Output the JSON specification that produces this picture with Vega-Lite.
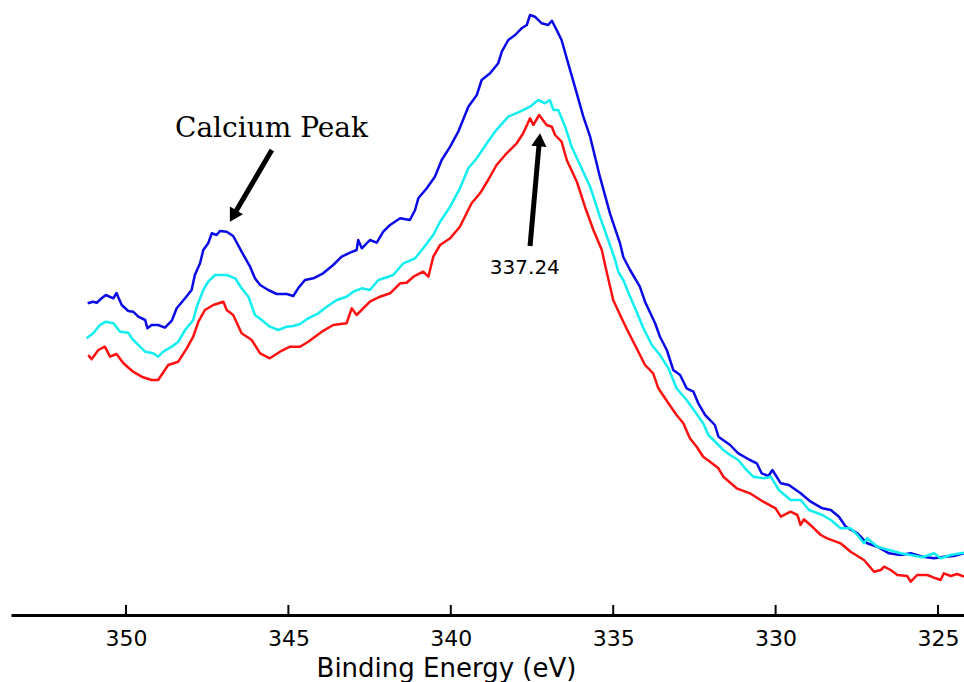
{
"$schema": "https://vega.github.io/schema/vega-lite/v6.json",
"width": 953, "height": 615,
"autosize": {"type": "none"},
"padding": {"left": 11, "top": 0, "right": 0, "bottom": 67},
"background": "white",
"config": {"view": {"stroke": null}},
"datasets": {
"spectra": [
{"series":"Spectrum 1","energy":351.18,"intensity":311.7},{"series":"Spectrum 1","energy":351.01,"intensity":313.3},{"series":"Spectrum 1","energy":350.90,"intensity":312.3},{"series":"Spectrum 1","energy":350.75,"intensity":316.7},{"series":"Spectrum 1","energy":350.62,"intensity":320},{"series":"Spectrum 1","energy":350.39,"intensity":316.7},{"series":"Spectrum 1","energy":350.29,"intensity":322},{"series":"Spectrum 1","energy":350.24,"intensity":318},{"series":"Spectrum 1","energy":350.13,"intensity":310},{"series":"Spectrum 1","energy":349.93,"intensity":304},{"series":"Spectrum 1","energy":349.78,"intensity":303.3},{"series":"Spectrum 1","energy":349.62,"intensity":298.3},{"series":"Spectrum 1","energy":349.41,"intensity":295},{"series":"Spectrum 1","energy":349.34,"intensity":286.7},{"series":"Spectrum 1","energy":349.21,"intensity":290},{"series":"Spectrum 1","energy":349.01,"intensity":290},{"series":"Spectrum 1","energy":348.80,"intensity":287.3},{"series":"Spectrum 1","energy":348.59,"intensity":294.3},{"series":"Spectrum 1","energy":348.44,"intensity":306.7},{"series":"Spectrum 1","energy":348.18,"intensity":316.7},{"series":"Spectrum 1","energy":347.98,"intensity":325},{"series":"Spectrum 1","energy":347.88,"intensity":340},{"series":"Spectrum 1","energy":347.72,"intensity":351.7},{"series":"Spectrum 1","energy":347.62,"intensity":365},{"series":"Spectrum 1","energy":347.47,"intensity":371.7},{"series":"Spectrum 1","energy":347.36,"intensity":381.7},{"series":"Spectrum 1","energy":347.21,"intensity":380},{"series":"Spectrum 1","energy":347.11,"intensity":384},{"series":"Spectrum 1","energy":346.90,"intensity":383.3},{"series":"Spectrum 1","energy":346.70,"intensity":379},{"series":"Spectrum 1","energy":346.44,"intensity":363.3},{"series":"Spectrum 1","energy":346.18,"intensity":348.3},{"series":"Spectrum 1","energy":346.03,"intensity":336.7},{"series":"Spectrum 1","energy":345.87,"intensity":330},{"series":"Spectrum 1","energy":345.62,"intensity":325},{"series":"Spectrum 1","energy":345.36,"intensity":321},{"series":"Spectrum 1","energy":345.05,"intensity":321},{"series":"Spectrum 1","energy":344.85,"intensity":319},{"series":"Spectrum 1","energy":344.70,"intensity":326.7},{"series":"Spectrum 1","energy":344.49,"intensity":335},{"series":"Spectrum 1","energy":344.23,"intensity":336.7},{"series":"Spectrum 1","energy":343.93,"intensity":341.7},{"series":"Spectrum 1","energy":343.62,"intensity":350},{"series":"Spectrum 1","energy":343.36,"intensity":358.3},{"series":"Spectrum 1","energy":343.10,"intensity":362.3},{"series":"Spectrum 1","energy":342.90,"intensity":365},{"series":"Spectrum 1","energy":342.85,"intensity":375},{"series":"Spectrum 1","energy":342.74,"intensity":366.7},{"series":"Spectrum 1","energy":342.49,"intensity":375},{"series":"Spectrum 1","energy":342.28,"intensity":372.3},{"series":"Spectrum 1","energy":342.08,"intensity":383.3},{"series":"Spectrum 1","energy":341.87,"intensity":390},{"series":"Spectrum 1","energy":341.56,"intensity":396.7},{"series":"Spectrum 1","energy":341.26,"intensity":395},{"series":"Spectrum 1","energy":341.10,"intensity":405},{"series":"Spectrum 1","energy":341.00,"intensity":416.7},{"series":"Spectrum 1","energy":340.74,"intensity":426.7},{"series":"Spectrum 1","energy":340.49,"intensity":438.3},{"series":"Spectrum 1","energy":340.28,"intensity":455},{"series":"Spectrum 1","energy":340.02,"intensity":468.3},{"series":"Spectrum 1","energy":339.77,"intensity":483.3},{"series":"Spectrum 1","energy":339.46,"intensity":508.3},{"series":"Spectrum 1","energy":339.20,"intensity":520},{"series":"Spectrum 1","energy":339.05,"intensity":535},{"series":"Spectrum 1","energy":338.79,"intensity":541.7},{"series":"Spectrum 1","energy":338.54,"intensity":551.7},{"series":"Spectrum 1","energy":338.43,"intensity":563.3},{"series":"Spectrum 1","energy":338.23,"intensity":575},{"series":"Spectrum 1","energy":338.02,"intensity":580},{"series":"Spectrum 1","energy":337.82,"intensity":586.7},{"series":"Spectrum 1","energy":337.66,"intensity":590},{"series":"Spectrum 1","energy":337.56,"intensity":600},{"series":"Spectrum 1","energy":337.41,"intensity":598.3},{"series":"Spectrum 1","energy":337.20,"intensity":591.7},{"series":"Spectrum 1","energy":337.00,"intensity":590},{"series":"Spectrum 1","energy":336.89,"intensity":594.3},{"series":"Spectrum 1","energy":336.74,"intensity":585},{"series":"Spectrum 1","energy":336.59,"intensity":575},{"series":"Spectrum 1","energy":336.43,"intensity":556.7},{"series":"Spectrum 1","energy":336.18,"intensity":528.3},{"series":"Spectrum 1","energy":335.92,"intensity":498.3},{"series":"Spectrum 1","energy":335.71,"intensity":478.3},{"series":"Spectrum 1","energy":335.41,"intensity":438.3},{"series":"Spectrum 1","energy":335.10,"intensity":401.7},{"series":"Spectrum 1","energy":334.79,"intensity":371.7},{"series":"Spectrum 1","energy":334.69,"intensity":358},{"series":"Spectrum 1","energy":334.48,"intensity":345},{"series":"Spectrum 1","energy":334.18,"intensity":328.3},{"series":"Spectrum 1","energy":334.02,"intensity":313.3},{"series":"Spectrum 1","energy":333.71,"intensity":291.7},{"series":"Spectrum 1","energy":333.56,"intensity":278.3},{"series":"Spectrum 1","energy":333.35,"intensity":265},{"series":"Spectrum 1","energy":333.15,"intensity":245},{"series":"Spectrum 1","energy":332.94,"intensity":240},{"series":"Spectrum 1","energy":332.74,"intensity":226.7},{"series":"Spectrum 1","energy":332.53,"intensity":223.3},{"series":"Spectrum 1","energy":332.38,"intensity":211.7},{"series":"Spectrum 1","energy":332.17,"intensity":200},{"series":"Spectrum 1","energy":332.07,"intensity":196.7},{"series":"Spectrum 1","energy":331.87,"intensity":190},{"series":"Spectrum 1","energy":331.76,"intensity":178.3},{"series":"Spectrum 1","energy":331.40,"intensity":170},{"series":"Spectrum 1","energy":331.15,"intensity":161.7},{"series":"Spectrum 1","energy":330.79,"intensity":155},{"series":"Spectrum 1","energy":330.58,"intensity":151.7},{"series":"Spectrum 1","energy":330.43,"intensity":141.7},{"series":"Spectrum 1","energy":330.22,"intensity":139},{"series":"Spectrum 1","energy":330.10,"intensity":145},{"series":"Spectrum 1","energy":329.84,"intensity":131.7},{"series":"Spectrum 1","energy":329.59,"intensity":130},{"series":"Spectrum 1","energy":329.23,"intensity":121.7},{"series":"Spectrum 1","energy":328.92,"intensity":113.3},{"series":"Spectrum 1","energy":328.56,"intensity":106.7},{"series":"Spectrum 1","energy":328.30,"intensity":105},{"series":"Spectrum 1","energy":328.05,"intensity":98.3},{"series":"Spectrum 1","energy":327.84,"intensity":88.3},{"series":"Spectrum 1","energy":327.48,"intensity":81.7},{"series":"Spectrum 1","energy":327.18,"intensity":71.7},{"series":"Spectrum 1","energy":326.87,"intensity":68.3},{"series":"Spectrum 1","energy":326.51,"intensity":61.7},{"series":"Spectrum 1","energy":326.15,"intensity":60},{"series":"Spectrum 1","energy":325.84,"intensity":61.7},{"series":"Spectrum 1","energy":325.48,"intensity":58.3},{"series":"Spectrum 1","energy":325.12,"intensity":56.7},{"series":"Spectrum 1","energy":324.82,"intensity":58.3},{"series":"Spectrum 1","energy":324.51,"intensity":59},{"series":"Spectrum 1","energy":324.20,"intensity":61.7},
{"series":"Spectrum 2","energy":351.21,"intensity":276.7},{"series":"Spectrum 2","energy":351.01,"intensity":281.7},{"series":"Spectrum 2","energy":350.80,"intensity":290},{"series":"Spectrum 2","energy":350.62,"intensity":293.3},{"series":"Spectrum 2","energy":350.39,"intensity":291.7},{"series":"Spectrum 2","energy":350.18,"intensity":283.3},{"series":"Spectrum 2","energy":349.93,"intensity":282.3},{"series":"Spectrum 2","energy":349.82,"intensity":276.7},{"series":"Spectrum 2","energy":349.67,"intensity":271.7},{"series":"Spectrum 2","energy":349.41,"intensity":263.3},{"series":"Spectrum 2","energy":349.16,"intensity":261.7},{"series":"Spectrum 2","energy":349.01,"intensity":258.3},{"series":"Spectrum 2","energy":348.85,"intensity":263.3},{"series":"Spectrum 2","energy":348.59,"intensity":268.3},{"series":"Spectrum 2","energy":348.39,"intensity":273.3},{"series":"Spectrum 2","energy":348.18,"intensity":285},{"series":"Spectrum 2","energy":347.93,"intensity":295},{"series":"Spectrum 2","energy":347.82,"intensity":308.3},{"series":"Spectrum 2","energy":347.62,"intensity":325},{"series":"Spectrum 2","energy":347.47,"intensity":333.3},{"series":"Spectrum 2","energy":347.26,"intensity":340},{"series":"Spectrum 2","energy":347.05,"intensity":340},{"series":"Spectrum 2","energy":346.90,"intensity":340},{"series":"Spectrum 2","energy":346.64,"intensity":336.7},{"series":"Spectrum 2","energy":346.44,"intensity":326.7},{"series":"Spectrum 2","energy":346.23,"intensity":318.3},{"series":"Spectrum 2","energy":346.03,"intensity":300},{"series":"Spectrum 2","energy":345.82,"intensity":295},{"series":"Spectrum 2","energy":345.57,"intensity":288.3},{"series":"Spectrum 2","energy":345.31,"intensity":285},{"series":"Spectrum 2","energy":345.05,"intensity":288.3},{"series":"Spectrum 2","energy":344.85,"intensity":289},{"series":"Spectrum 2","energy":344.64,"intensity":291},{"series":"Spectrum 2","energy":344.39,"intensity":296.7},{"series":"Spectrum 2","energy":344.08,"intensity":301.7},{"series":"Spectrum 2","energy":343.82,"intensity":308.3},{"series":"Spectrum 2","energy":343.51,"intensity":315},{"series":"Spectrum 2","energy":343.21,"intensity":318.3},{"series":"Spectrum 2","energy":343.00,"intensity":323.3},{"series":"Spectrum 2","energy":342.74,"intensity":326.7},{"series":"Spectrum 2","energy":342.49,"intensity":325},{"series":"Spectrum 2","energy":342.23,"intensity":335},{"series":"Spectrum 2","energy":341.92,"intensity":338.3},{"series":"Spectrum 2","energy":341.77,"intensity":340},{"series":"Spectrum 2","energy":341.46,"intensity":351.7},{"series":"Spectrum 2","energy":341.10,"intensity":356.7},{"series":"Spectrum 2","energy":340.85,"intensity":366.7},{"series":"Spectrum 2","energy":340.54,"intensity":380},{"series":"Spectrum 2","energy":340.33,"intensity":393.3},{"series":"Spectrum 2","energy":340.02,"intensity":408.3},{"series":"Spectrum 2","energy":339.72,"intensity":426.7},{"series":"Spectrum 2","energy":339.46,"intensity":446.7},{"series":"Spectrum 2","energy":339.20,"intensity":456.7},{"series":"Spectrum 2","energy":338.89,"intensity":471.7},{"series":"Spectrum 2","energy":338.64,"intensity":483.3},{"series":"Spectrum 2","energy":338.23,"intensity":498.3},{"series":"Spectrum 2","energy":337.87,"intensity":503.3},{"series":"Spectrum 2","energy":337.56,"intensity":508.3},{"series":"Spectrum 2","energy":337.31,"intensity":515},{"series":"Spectrum 2","energy":337.10,"intensity":511.7},{"series":"Spectrum 2","energy":336.95,"intensity":515},{"series":"Spectrum 2","energy":336.84,"intensity":505},{"series":"Spectrum 2","energy":336.69,"intensity":505},{"series":"Spectrum 2","energy":336.48,"intensity":488.3},{"series":"Spectrum 2","energy":336.28,"intensity":468.3},{"series":"Spectrum 2","energy":336.02,"intensity":450},{"series":"Spectrum 2","energy":335.71,"intensity":428.3},{"series":"Spectrum 2","energy":335.41,"intensity":398.3},{"series":"Spectrum 2","energy":335.10,"intensity":370},{"series":"Spectrum 2","energy":334.94,"intensity":355},{"series":"Spectrum 2","energy":334.84,"intensity":343},{"series":"Spectrum 2","energy":334.69,"intensity":335},{"series":"Spectrum 2","energy":334.48,"intensity":318.3},{"series":"Spectrum 2","energy":334.28,"intensity":303.3},{"series":"Spectrum 2","energy":334.07,"intensity":286.7},{"series":"Spectrum 2","energy":333.81,"intensity":270},{"series":"Spectrum 2","energy":333.56,"intensity":260},{"series":"Spectrum 2","energy":333.30,"intensity":246.7},{"series":"Spectrum 2","energy":333.05,"intensity":226.7},{"series":"Spectrum 2","energy":332.74,"intensity":215},{"series":"Spectrum 2","energy":332.48,"intensity":203.3},{"series":"Spectrum 2","energy":332.23,"intensity":191.7},{"series":"Spectrum 2","energy":332.07,"intensity":180},{"series":"Spectrum 2","energy":331.76,"intensity":170},{"series":"Spectrum 2","energy":331.61,"intensity":165},{"series":"Spectrum 2","energy":331.40,"intensity":160},{"series":"Spectrum 2","energy":331.15,"intensity":155},{"series":"Spectrum 2","energy":330.94,"intensity":146.7},{"series":"Spectrum 2","energy":330.69,"intensity":138.3},{"series":"Spectrum 2","energy":330.36,"intensity":136.7},{"series":"Spectrum 2","energy":330.15,"intensity":138.3},{"series":"Spectrum 2","energy":329.90,"intensity":125},{"series":"Spectrum 2","energy":329.54,"intensity":115},{"series":"Spectrum 2","energy":329.23,"intensity":115},{"series":"Spectrum 2","energy":328.97,"intensity":105},{"series":"Spectrum 2","energy":328.56,"intensity":100},{"series":"Spectrum 2","energy":328.30,"intensity":95},{"series":"Spectrum 2","energy":328.00,"intensity":86.7},{"series":"Spectrum 2","energy":327.69,"intensity":86.7},{"series":"Spectrum 2","energy":327.48,"intensity":80},{"series":"Spectrum 2","energy":327.28,"intensity":71.7},{"series":"Spectrum 2","energy":327.18,"intensity":76.7},{"series":"Spectrum 2","energy":326.87,"intensity":68.3},{"series":"Spectrum 2","energy":326.51,"intensity":65},{"series":"Spectrum 2","energy":326.15,"intensity":61.7},{"series":"Spectrum 2","energy":325.84,"intensity":60},{"series":"Spectrum 2","energy":325.48,"intensity":57.7},{"series":"Spectrum 2","energy":325.12,"intensity":61.7},{"series":"Spectrum 2","energy":324.92,"intensity":56.7},{"series":"Spectrum 2","energy":324.61,"intensity":60},{"series":"Spectrum 2","energy":324.20,"intensity":62.3},
{"series":"Spectrum 3","energy":351.16,"intensity":260},{"series":"Spectrum 3","energy":351.06,"intensity":255.7},{"series":"Spectrum 3","energy":350.85,"intensity":265},{"series":"Spectrum 3","energy":350.65,"intensity":268.3},{"series":"Spectrum 3","energy":350.49,"intensity":258.3},{"series":"Spectrum 3","energy":350.29,"intensity":261},{"series":"Spectrum 3","energy":350.08,"intensity":251.7},{"series":"Spectrum 3","energy":349.78,"intensity":243.3},{"series":"Spectrum 3","energy":349.52,"intensity":238.3},{"series":"Spectrum 3","energy":349.21,"intensity":235},{"series":"Spectrum 3","energy":349.01,"intensity":235},{"series":"Spectrum 3","energy":348.70,"intensity":250},{"series":"Spectrum 3","energy":348.39,"intensity":253.3},{"series":"Spectrum 3","energy":348.13,"intensity":266.7},{"series":"Spectrum 3","energy":347.93,"intensity":278.3},{"series":"Spectrum 3","energy":347.77,"intensity":293.3},{"series":"Spectrum 3","energy":347.57,"intensity":305},{"series":"Spectrum 3","energy":347.31,"intensity":310},{"series":"Spectrum 3","energy":347.00,"intensity":313.3},{"series":"Spectrum 3","energy":346.90,"intensity":305},{"series":"Spectrum 3","energy":346.70,"intensity":300},{"series":"Spectrum 3","energy":346.44,"intensity":281.7},{"series":"Spectrum 3","energy":346.13,"intensity":275},{"series":"Spectrum 3","energy":345.87,"intensity":261.7},{"series":"Spectrum 3","energy":345.57,"intensity":256.7},{"series":"Spectrum 3","energy":345.26,"intensity":263.3},{"series":"Spectrum 3","energy":344.95,"intensity":268.3},{"series":"Spectrum 3","energy":344.64,"intensity":268.3},{"series":"Spectrum 3","energy":344.39,"intensity":273.3},{"series":"Spectrum 3","energy":343.97,"intensity":283.3},{"series":"Spectrum 3","energy":343.62,"intensity":290},{"series":"Spectrum 3","energy":343.21,"intensity":291.7},{"series":"Spectrum 3","energy":343.05,"intensity":306.7},{"series":"Spectrum 3","energy":342.90,"intensity":300},{"series":"Spectrum 3","energy":342.49,"intensity":313.3},{"series":"Spectrum 3","energy":342.18,"intensity":318.3},{"series":"Spectrum 3","energy":341.87,"intensity":321.7},{"series":"Spectrum 3","energy":341.56,"intensity":331.7},{"series":"Spectrum 3","energy":341.36,"intensity":332.3},{"series":"Spectrum 3","energy":341.15,"intensity":338.3},{"series":"Spectrum 3","energy":340.85,"intensity":343.3},{"series":"Spectrum 3","energy":340.69,"intensity":338.3},{"series":"Spectrum 3","energy":340.54,"intensity":358.3},{"series":"Spectrum 3","energy":340.33,"intensity":370},{"series":"Spectrum 3","energy":340.02,"intensity":376.7},{"series":"Spectrum 3","energy":339.72,"intensity":388.3},{"series":"Spectrum 3","energy":339.36,"intensity":411.7},{"series":"Spectrum 3","energy":339.10,"intensity":421.7},{"series":"Spectrum 3","energy":338.85,"intensity":435},{"series":"Spectrum 3","energy":338.59,"intensity":450},{"series":"Spectrum 3","energy":338.28,"intensity":461.7},{"series":"Spectrum 3","energy":337.97,"intensity":471.7},{"series":"Spectrum 3","energy":337.77,"intensity":481.7},{"series":"Spectrum 3","energy":337.56,"intensity":496.7},{"series":"Spectrum 3","energy":337.46,"intensity":490},{"series":"Spectrum 3","energy":337.28,"intensity":500},{"series":"Spectrum 3","energy":337.05,"intensity":490},{"series":"Spectrum 3","energy":336.89,"intensity":488.3},{"series":"Spectrum 3","energy":336.79,"intensity":480},{"series":"Spectrum 3","energy":336.59,"intensity":473.3},{"series":"Spectrum 3","energy":336.43,"intensity":455},{"series":"Spectrum 3","energy":336.12,"intensity":433.3},{"series":"Spectrum 3","energy":335.87,"intensity":408.3},{"series":"Spectrum 3","energy":335.61,"intensity":385},{"series":"Spectrum 3","energy":335.35,"intensity":365},{"series":"Spectrum 3","energy":335.25,"intensity":350},{"series":"Spectrum 3","energy":335.00,"intensity":315},{"series":"Spectrum 3","energy":334.74,"intensity":296.7},{"series":"Spectrum 3","energy":334.54,"intensity":283.3},{"series":"Spectrum 3","energy":334.28,"intensity":266.7},{"series":"Spectrum 3","energy":334.02,"intensity":250},{"series":"Spectrum 3","energy":333.77,"intensity":241.7},{"series":"Spectrum 3","energy":333.61,"intensity":226.7},{"series":"Spectrum 3","energy":333.30,"intensity":211.7},{"series":"Spectrum 3","energy":333.05,"intensity":200},{"series":"Spectrum 3","energy":332.84,"intensity":191.7},{"series":"Spectrum 3","energy":332.64,"intensity":176.7},{"series":"Spectrum 3","energy":332.43,"intensity":168.3},{"series":"Spectrum 3","energy":332.23,"intensity":158.3},{"series":"Spectrum 3","energy":332.02,"intensity":153.3},{"series":"Spectrum 3","energy":331.76,"intensity":146.7},{"series":"Spectrum 3","energy":331.61,"intensity":138.3},{"series":"Spectrum 3","energy":331.20,"intensity":126.7},{"series":"Spectrum 3","energy":330.79,"intensity":121.7},{"series":"Spectrum 3","energy":330.38,"intensity":113.3},{"series":"Spectrum 3","energy":330.00,"intensity":106.7},{"series":"Spectrum 3","energy":329.84,"intensity":98.3},{"series":"Spectrum 3","energy":329.54,"intensity":103.3},{"series":"Spectrum 3","energy":329.33,"intensity":100},{"series":"Spectrum 3","energy":329.23,"intensity":90},{"series":"Spectrum 3","energy":329.13,"intensity":95.7},{"series":"Spectrum 3","energy":328.82,"intensity":86.7},{"series":"Spectrum 3","energy":328.61,"intensity":80},{"series":"Spectrum 3","energy":328.41,"intensity":76.7},{"series":"Spectrum 3","energy":328.00,"intensity":71.7},{"series":"Spectrum 3","energy":327.69,"intensity":63.3},{"series":"Spectrum 3","energy":327.28,"intensity":55},{"series":"Spectrum 3","energy":326.97,"intensity":43.3},{"series":"Spectrum 3","energy":326.76,"intensity":45},{"series":"Spectrum 3","energy":326.66,"intensity":48.3},{"series":"Spectrum 3","energy":326.46,"intensity":45},{"series":"Spectrum 3","energy":326.25,"intensity":40},{"series":"Spectrum 3","energy":325.95,"intensity":39},{"series":"Spectrum 3","energy":325.84,"intensity":33.3},{"series":"Spectrum 3","energy":325.64,"intensity":40},{"series":"Spectrum 3","energy":325.33,"intensity":40},{"series":"Spectrum 3","energy":325.07,"intensity":36.7},{"series":"Spectrum 3","energy":324.92,"intensity":35},{"series":"Spectrum 3","energy":324.82,"intensity":41.7},{"series":"Spectrum 3","energy":324.61,"intensity":39},{"series":"Spectrum 3","energy":324.41,"intensity":41},{"series":"Spectrum 3","energy":324.20,"intensity":38.3}
],
"arrows": [
{"label":"Calcium Peak","tailEnergy":345.51,"tailIntensity":465,"headEnergy":346.70,"headIntensity":398.9,"angle":210},
{"label":"337.24","tailEnergy":337.56,"tailIntensity":369,"headEnergy":337.27,"headIntensity":475.2,"angle":5}
],
"labels": [
{"text":"Calcium Peak","energy":345.52,"intensity":478,"kind":"title"},
{"text":"337.24","energy":337.72,"intensity":341,"kind":"value"}
],
"tickmarks": [
{"tickEnergy":350,"tickLow":0,"tickHigh":10},{"tickEnergy":345,"tickLow":0,"tickHigh":10},{"tickEnergy":340,"tickLow":0,"tickHigh":10},
{"tickEnergy":335,"tickLow":0,"tickHigh":10},{"tickEnergy":330,"tickLow":0,"tickHigh":10},{"tickEnergy":325,"tickLow":0,"tickHigh":10}
]
},
"layer": [
{
"data": {"name": "spectra"},
"mark": {"type": "line", "strokeWidth": 2.5, "strokeJoin": "round", "clip": true},
"encoding": {
"x": {"field": "energy", "type": "quantitative",
"scale": {"domain": [353.54, 324.2], "nice": false, "zero": false},
"axis": {"title": "Binding Energy (eV)", "values": [350, 345, 340, 335, 330, 325], "grid": false,
"domainColor": "black", "domainWidth": 3, "ticks": false, "tickSize": 0,
"labelFont": "DejaVu Sans", "labelFontSize": 22, "labelColor": "black", "labelBaseline": "alphabetic", "labelPadding": 30,
"titleFont": "DejaVu Sans", "titleFontSize": 26, "titleFontWeight": "normal", "titleColor": "black",
"titleBaseline": "alphabetic", "titleX": 435, "titleY": 61, "titleAnchor": "start", "titleAlign": "center"}},
"y": {"field": "intensity", "type": "quantitative", "scale": {"domain": [0, 615], "nice": false, "zero": false}, "axis": null},
"color": {"field": "series", "type": "nominal", "scale": {"domain": ["Spectrum 1", "Spectrum 2", "Spectrum 3"], "range": ["#0a0ae6", "#10eef0", "#ff1010"]}, "legend": null}
}
},
{
"data": {"name": "tickmarks"},
"mark": {"type": "rule", "color": "black", "strokeWidth": 2, "opacity": 1},
"encoding": {
"x": {"field": "tickEnergy", "type": "quantitative"},
"y": {"field": "tickLow", "type": "quantitative"},
"y2": {"field": "tickHigh"}
}
},
{
"data": {"name": "arrows"},
"mark": {"type": "rule", "color": "black", "strokeWidth": 5},
"encoding": {
"x": {"field": "tailEnergy", "type": "quantitative"},
"y": {"field": "tailIntensity", "type": "quantitative"},
"x2": {"field": "headEnergy"},
"y2": {"field": "headIntensity"}
}
},
{
"data": {"name": "arrows"},
"mark": {"type": "point", "shape": "triangle-up", "filled": true, "color": "black", "size": 230, "opacity": 1},
"encoding": {
"x": {"field": "headEnergy", "type": "quantitative"},
"y": {"field": "headIntensity", "type": "quantitative"},
"angle": {"field": "angle", "type": "quantitative", "scale": null}
}
},
{
"data": {"name": "labels"},
"transform": [{"filter": "datum.kind == 'title'"}],
"mark": {"type": "text", "font": "DejaVu Serif", "fontSize": 28, "align": "center", "baseline": "alphabetic", "color": "black"},
"encoding": {
"x": {"field": "energy", "type": "quantitative"},
"y": {"field": "intensity", "type": "quantitative"},
"text": {"field": "text"}
}
},
{
"data": {"name": "labels"},
"transform": [{"filter": "datum.kind == 'value'"}],
"mark": {"type": "text", "font": "DejaVu Sans", "fontSize": 20, "align": "center", "baseline": "alphabetic", "color": "black"},
"encoding": {
"x": {"field": "energy", "type": "quantitative"},
"y": {"field": "intensity", "type": "quantitative"},
"text": {"field": "text"}
}
}
]
}
